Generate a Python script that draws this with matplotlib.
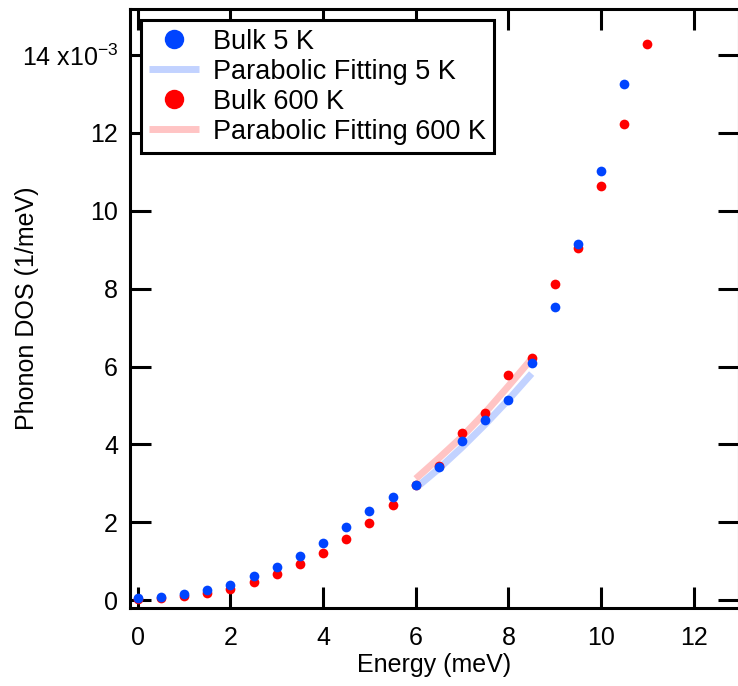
import matplotlib
matplotlib.use("Agg")
import matplotlib.pyplot as plt

plt.rcParams["font.family"] = ["Liberation Sans", "DejaVu Sans"]
plt.rcParams["mathtext.default"] = "regular"

# Energia (meV) y DOS (x1e-3 1/meV)
energia_5k = [0, 0.5, 1, 1.5, 2, 2.5, 3, 3.5, 4, 4.5, 5, 5.5, 6, 6.5, 7, 7.5,
              8, 8.5, 9, 9.5, 10, 10.5]
dos_5k = [0.05, 0.07, 0.15, 0.25, 0.40, 0.63, 0.85, 1.13, 1.47, 1.87, 2.28,
          2.66, 2.95, 3.42, 4.10, 4.63, 5.13, 6.10, 7.53, 9.15, 11.02, 13.25]

energia_600k = [0, 0.5, 1, 1.5, 2, 2.5, 3, 3.5, 4, 4.5, 5, 5.5, 6, 6.5, 7,
                7.5, 8, 8.5, 9, 9.5, 10, 10.5, 11]
dos_600k = [0.03, 0.05, 0.10, 0.18, 0.30, 0.48, 0.68, 0.93, 1.22, 1.57, 1.98,
            2.45, 2.97, 3.45, 4.30, 4.82, 5.78, 6.22, 8.12, 9.05, 10.65, 12.22,
            14.28]

# Ajustes parabolicos
energia_fit = [6, 6.5, 7, 7.5, 8, 8.5]
fit_5k = [2.88, 3.38, 3.93, 4.52, 5.15, 5.82]
fit_600k = [3.12, 3.65, 4.20, 4.82, 5.50, 6.20]

xticks = [0, 2, 4, 6, 8, 10, 12]
yticks = [0, 2, 4, 6, 8, 10, 12, 14]
yticklabels = ["0", "2", "4", "6", "8", "10", "12", "14 x10$^{-3}$"]

azul = "#0044ff"
rojo = "#ff0000"

fig = plt.figure(figsize=(7.38, 6.86), dpi=100)
ax = fig.add_axes([0.176, 0.1137, 0.825, 0.873])

ax.plot(energia_fit, fit_5k, color="#c2d2ff", lw=5, solid_capstyle="butt",
        label="Parabolic Fitting 5 K", zorder=2)
ax.plot(energia_fit, fit_600k, color="#ffc4c4", lw=5, solid_capstyle="butt",
        label="Parabolic Fitting 600 K", zorder=2)
ax.plot(energia_600k, dos_600k, "o", color=rojo, ms=7, mec="none",
        label="Bulk 600 K", zorder=3)
ax.plot(energia_5k, dos_5k, "o", color=azul, ms=7, mec="none",
        label="Bulk 5 K", zorder=4)

ax.set_xlim(-0.17, 12.97)
ax.set_ylim(-0.2, 15.18)
ax.set_xticks(xticks)
ax.set_yticks(yticks)
ax.set_yticklabels(yticklabels)

for s in ax.spines.values():
    s.set_linewidth(2.2)
ax.tick_params(direction="in", length=15, width=2.2, top=True, right=True,
               labelsize=18)
ax.tick_params(axis="x", pad=13)
ax.tick_params(axis="y", pad=8.5)

ax.set_xlabel("Energy (meV)", fontsize=18, labelpad=2)
ax.set_ylabel("Phonon DOS (1/meV)", fontsize=18)
ax.yaxis.set_label_coords(-0.149, 0.5)

h, l = ax.get_legend_handles_labels()
orden = [3, 0, 2, 1]
leg = ax.legend([h[i] for i in orden], [l[i] for i in orden], loc="upper left",
                fontsize=19.5, fancybox=False, framealpha=1, edgecolor="black",
                borderaxespad=0.42, handlelength=1.85, handletextpad=0.5,
                labelspacing=0.15, borderpad=0.3, markerscale=2.0)
leg.get_frame().set_linewidth(2.2)
leg.set_zorder(10)

fig.savefig("out.png", dpi=100)
